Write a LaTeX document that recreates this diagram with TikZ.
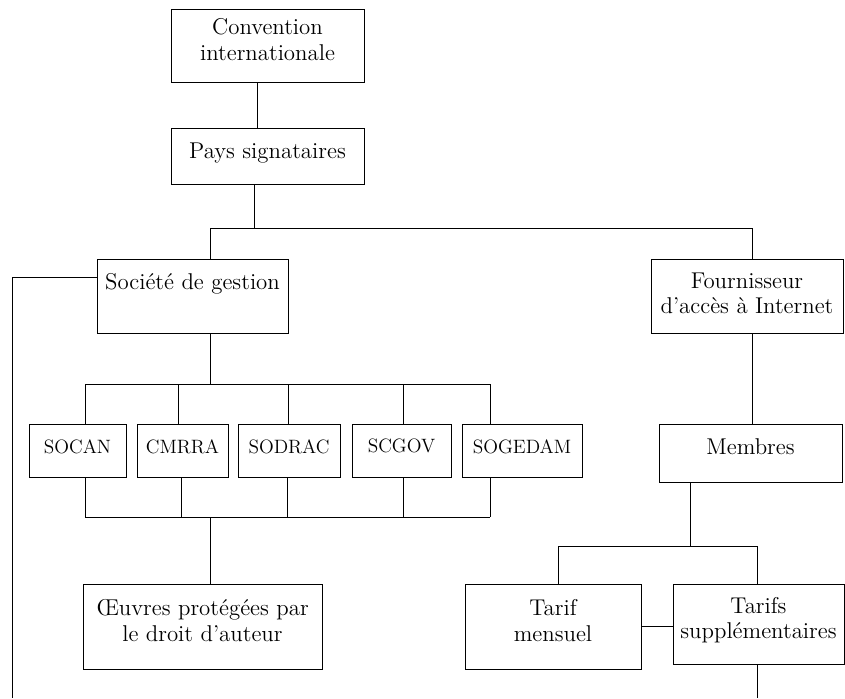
\documentclass[tikz,border=0pt]{standalone}
\tikzset{
	box/.style={draw, line width=0.5pt, align=center, inner sep=1pt, text depth=7pt},
	acro/.style={box, font=\fontsize{11}{13}\selectfont, text depth=5pt},
	link/.style={line width=0.5pt}
}
\begin{document}
\begin{tikzpicture}[x=0.02cm, y=-0.02cm, font=\fontsize{13}{14.5}\selectfont]
	\useasboundingbox (0,0) rectangle (845,698);

	\node[box, minimum width=3.86cm, minimum height=1.46cm] (conv) at (267.5,45.5) {Convention\\internationale};
	\node[box, minimum width=3.86cm, minimum height=1.12cm, text depth=6pt] (pays) at (267.5,156) {Pays signataires};
	\node[box, minimum width=3.82cm, minimum height=1.48cm, text depth=17pt] (soc) at (192.5,296) {Société de gestion};
	\node[box, minimum width=3.84cm, minimum height=1.48cm, text depth=3pt] (four) at (747,296) {Fournisseur\\d’accès à Internet};

	\node[acro, minimum width=1.94cm, minimum height=1.06cm] (socan) at (77.5,450.5) {SOCAN};
	\node[acro, minimum width=1.82cm, minimum height=1.06cm] (cmrra) at (182.5,450.5) {CMRRA};
	\node[acro, minimum width=2.04cm, minimum height=1.06cm] (sodrac) at (289,450.5) {SODRAC};
	\node[acro, minimum width=1.98cm, minimum height=1.06cm] (scgov) at (401.5,450.5) {SCGOV};
	\node[acro, minimum width=2.40cm, minimum height=1.06cm] (sogedam) at (522,450.5) {SOGEDAM};
	\node[box, minimum width=3.66cm, minimum height=1.16cm] (membres) at (750.5,453) {Membres};

	\node[box, minimum width=4.78cm, minimum height=1.70cm] (oeuvres) at (202.5,626.5) {Œuvres protégées par\\le droit d’auteur};
	\node[box, minimum width=3.52cm, minimum height=1.70cm] (mensuel) at (553,626.5) {Tarif\\mensuel};
	\node[box, minimum width=3.42cm, minimum height=1.60cm] (supp) at (758.5,624) {Tarifs\\supplémentaires};

	% top part
	\coordinate (b1) at (254,228);
	\coordinate (b1l) at (210,228);
	\coordinate (b1r) at (752,228);
	\draw[link] (conv.south -| 257,0) -- (pays.north -| 257,0);
	\draw[link] (pays.south -| b1) -- (b1);
	\draw[link] (soc.north -| b1l) -- (b1l) -- (b1r) -- (four.north -| b1r);

	% line on the left
	\coordinate (l1) at (12,277);
	\coordinate (l2) at (12,698);
	\draw[link] (soc.west |- l1) -- (l1) -- (l2);

	% societies
	\coordinate (t1) at (85,384);
	\coordinate (t2) at (490,384);
	\coordinate (u1) at (85,517);
	\coordinate (u2) at (490,517);
	\draw[link] (soc.south -| 210,0) -- (t1 -| 210,0);
	\draw[link] (t1) -- (t2);
	\draw[link] (u1) -- (u2);
	\foreach \n/\xa/\xb in {socan/85/85, cmrra/178/181, sodrac/288/287, scgov/403/403, sogedam/490/490}{
		\draw[link] (\n.north -| \xa,0) -- (t1 -| \xa,0);
		\draw[link] (\n.south -| \xb,0) -- (u1 -| \xb,0);
	}
	\draw[link] (u1 -| 210,0) -- (oeuvres.north -| 210,0);

	% right part
	\coordinate (r1) at (558,546);
	\coordinate (r2) at (757,546);
	\coordinate (r3) at (757,698);
	\draw[link] (four.south -| b1r) -- (membres.north -| b1r);
	\draw[link] (membres.south -| 690,0) -- (r1 -| 690,0);
	\draw[link] (mensuel.north -| r1) -- (r1) -- (r2) -- (supp.north -| r2);
	\draw[link] (mensuel.east) -- (mensuel.east -| supp.west);
	\draw[link] (supp.south -| r3) -- (r3);
\end{tikzpicture}
\end{document}
